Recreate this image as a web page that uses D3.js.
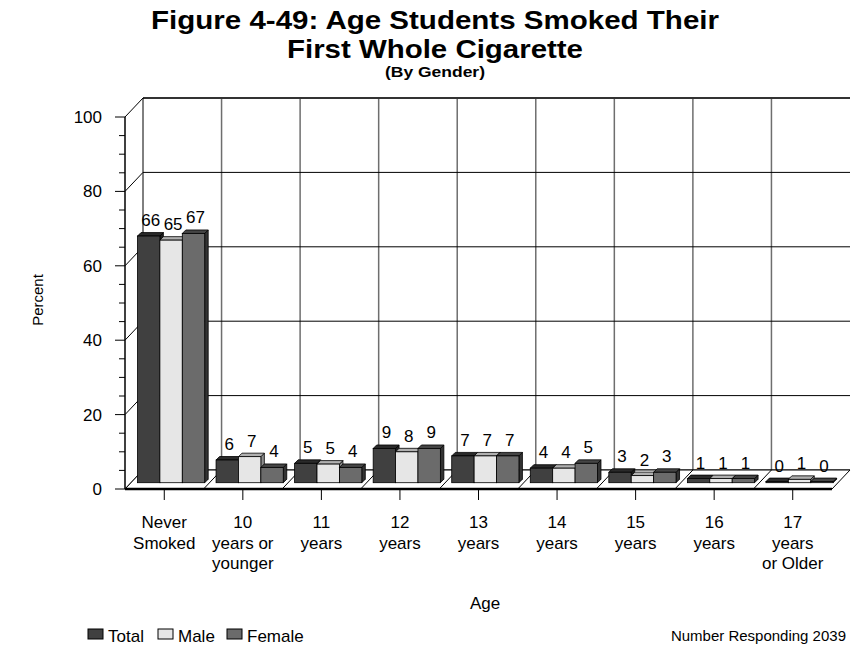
<!DOCTYPE html>
<html><head><meta charset="utf-8">
<script src="https://cdn.jsdelivr.net/npm/d3@7"></script>
<style>body{margin:0;background:#fff}svg{display:block;font-family:"Liberation Sans",Arial,sans-serif}</style>
</head><body><svg id="c" width="851" height="647"></svg>
<script>
const categories = ["Never|Smoked","10|years or|younger","11|years","12|years","13|years","14|years","15|years","16|years","17|years|or Older"];
const seriesNames = ["Total","Male","Female"];
const total  = [66.3, 6.1, 5.2, 9.2, 7.2, 3.9, 2.8, 1.1, 0.3];
const male   = [65.2, 7.0, 5.0, 8.3, 7.2, 3.9, 1.9, 1.1, 0.9];
const female = [67.0, 4.1, 4.1, 9.2, 7.2, 5.2, 2.8, 1.1, 0.3];
const yTicks = [0,20,40,60,80,100];
const yMinor = d3.range(0,101,5);
const titleLines = ["Figure 4-49: Age Students Smoked Their","First Whole Cigarette"];
const subtitle = "(By Gender)";
const frontColors = ["#404040","#e6e6e6","#6b6b6b"];
const topColors   = ["#2a2a2a","#b0b0b0","#454545"];
const sideColors  = ["#1e1e1e","#8c8c8c","#333333"];

const svg = d3.select("#c");
const x = d3.scaleBand().domain(categories).range([125, 832]).padding(0);
const y = d3.scaleLinear().domain([0,100]).range([489,117]);
const DX = 18, DY = 19;      // wall depth
const BS = 6.3;              // bar setback
const BD = 3.5;              // bar depth
const bw = x.bandwidth();
const sub = d3.scaleBand().domain(seriesNames).range([0, 67.2]);
const series = [total, male, female];

const g = svg.append("g");
g.append("rect").attr("x", 125+DX).attr("y", y(100)-DY).attr("width", 832-125).attr("height", y(0)-y(100)).attr("fill","#fff");
categories.slice(1).forEach(c => {
  g.append("line").attr("x1", x(c)+DX).attr("x2", x(c)+DX).attr("y1", y(100)-DY).attr("y2", y(0)-DY)
   .attr("stroke","#6e6e6e").attr("stroke-width",1.5);
});
yTicks.forEach(t => {
  g.append("line").attr("x1",125+DX).attr("x2",832+DX).attr("y1",y(t)-DY).attr("y2",y(t)-DY)
   .attr("stroke", t===100 ? "#333" : "#000").attr("stroke-width", t===100 ? 2 : 1);
  g.append("line").attr("x1",125).attr("y1",y(t)).attr("x2",125+DX).attr("y2",y(t)-DY).attr("stroke","#000").attr("stroke-width",1);
});
g.append("line").attr("x1",125+DX).attr("x2",125+DX).attr("y1",y(100)-DY).attr("y2",y(0)-DY).attr("stroke","#000");

const floorPts = [[125,y(0)],[832,y(0)],[832+DX,y(0)-DY],[125+DX,y(0)-DY]];
g.append("polygon").attr("points", floorPts.map(p=>p.join(",")).join(" ")).attr("fill","#fff").attr("stroke","#000").attr("stroke-width",1);
categories.slice(1).forEach(c => {
  g.append("line").attr("x1",x(c)).attr("y1",y(0)).attr("x2",x(c)+DX).attr("y2",y(0)-DY).attr("stroke","#000").attr("stroke-width",1);
});
g.append("line").attr("x1",125).attr("x2",832).attr("y1",y(0)).attr("y2",y(0)).attr("stroke","#000").attr("stroke-width",2.5);

g.append("line").attr("x1",125).attr("x2",125).attr("y1",y(100)).attr("y2",y(0)).attr("stroke","#000").attr("stroke-width",1.5);
yMinor.forEach(t => {
  const major = t % 20 === 0;
  g.append("line").attr("x1", major ? 115 : 119).attr("x2",125).attr("y1",y(t)).attr("y2",y(t)).attr("stroke","#000");
});
yTicks.forEach(t => {
  g.append("text").attr("x",102).attr("y",y(t)).attr("dy","0.35em").attr("text-anchor","end")
   .attr("font-size",17).text(t);
});
categories.forEach(c => {
  const cx = x(c) + bw/2;
  g.append("line").attr("x1",cx).attr("x2",cx).attr("y1",y(0)+1).attr("y2",y(0)+11).attr("stroke","#000");
  const t = g.append("text").attr("text-anchor","middle").attr("font-size",17);
  c.split("|").forEach((s,i) => t.append("tspan").attr("x",cx).attr("y",528 + i*20.5).text(s));
});

const fmt = d3.format(".0f");
categories.forEach((c, ci) => {
  seriesNames.forEach((s, si) => {
    const v = series[si][ci];
    const x0 = x(c) + BS + 6.2 + sub(s);
    const w = sub.bandwidth();
    const yb = y(0) - BS, yt = y(v) - BS;
    g.append("polygon").attr("points", [[x0+w,yb],[x0+w+BD,yb-BD],[x0+w+BD,yt-BD],[x0+w,yt]].map(p=>p.join(",")).join(" "))
      .attr("fill", sideColors[si]).attr("stroke","#000").attr("stroke-width",0.8);
    g.append("polygon").attr("points", [[x0,yt],[x0+BD,yt-BD],[x0+w+BD,yt-BD],[x0+w,yt]].map(p=>p.join(",")).join(" "))
      .attr("fill", topColors[si]).attr("stroke","#000").attr("stroke-width",0.8);
    g.append("rect").attr("x",x0).attr("y",yt).attr("width",w).attr("height",Math.max(0,yb-yt))
      .attr("fill", frontColors[si]).attr("stroke","#000").attr("stroke-width",0.8);
    g.append("text").attr("x", x0 + w/2 + 2).attr("y", yt - 10).attr("text-anchor","middle")
      .attr("font-size",17).text(fmt(v));
  });
});

// titles (wide bold glyphs, as in the reference)
svg.append("text").attr("x",435).attr("y",29).attr("text-anchor","middle").attr("font-weight","bold")
  .attr("font-size",25).attr("textLength",568).attr("lengthAdjust","spacingAndGlyphs").text(titleLines[0]);
svg.append("text").attr("x",435).attr("y",57.5).attr("text-anchor","middle").attr("font-weight","bold")
  .attr("font-size",25).attr("textLength",296).attr("lengthAdjust","spacingAndGlyphs").text(titleLines[1]);
svg.append("text").attr("x",435).attr("y",77).attr("text-anchor","middle").attr("font-weight","bold")
  .attr("font-size",15).attr("textLength",100).attr("lengthAdjust","spacingAndGlyphs").text(subtitle);

svg.append("text").attr("transform","translate(43,300) rotate(-90)").attr("text-anchor","middle").attr("font-size",15).text("Percent");
svg.append("text").attr("x",485).attr("y",609).attr("text-anchor","middle").attr("font-size",17).text("Age");
svg.append("text").attr("x",846).attr("y",641).attr("text-anchor","end").attr("font-size",15).text("Number Responding 2039");

const legX = [88, 158, 227];
seriesNames.forEach((s, i) => {
  svg.append("rect").attr("x",legX[i]).attr("y",629).attr("width",15).attr("height",10)
    .attr("fill",frontColors[i]).attr("stroke","#000").attr("stroke-width",1);
  svg.append("text").attr("x",legX[i]+20).attr("y",642).attr("font-size",17).text(s);
});
</script></body></html>
